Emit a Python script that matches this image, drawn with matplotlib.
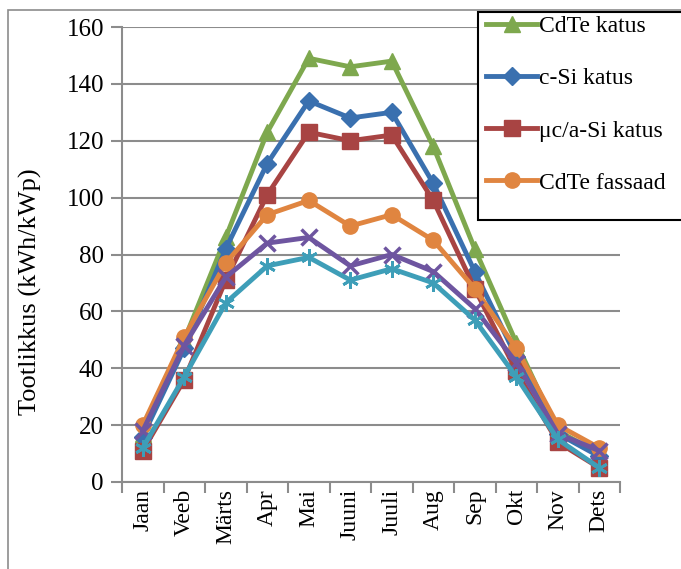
import matplotlib.pyplot as plt
from matplotlib.patches import Rectangle

# Kuud ja tootlikkus (kWh/kWp)
months = ['Jaan', 'Veeb', 'Märts', 'Apr', 'Mai', 'Juuni', 'Juuli', 'Aug', 'Sep', 'Okt', 'Nov', 'Dets']
cdte_katus = [17, 50, 86, 123, 149, 146, 148, 118, 82, 49, 18, 10]
csi_katus = [16, 47, 82, 112, 134, 128, 130, 105, 74, 44, 17, 9]
mcasi_katus = [11, 36, 71, 101, 123, 120, 122, 99, 68, 39, 14, 5]
cdte_fassaad = [20, 51, 77, 94, 99, 90, 94, 85, 68, 47, 20, 12]
seeria5 = [18, 48, 72, 84, 86, 76, 80, 74, 61, 42, 17, 11]
seeria6 = [12, 37, 63, 76, 79, 71, 75, 70, 57, 37, 15, 5]

plt.rcParams['font.family'] = ['Liberation Serif', 'DejaVu Serif']

W, H = 681, 569
fig = plt.figure(figsize=(W/100, H/100), dpi=100)
ax = fig.add_axes([122/W, 1-482/H, (620-122)/W, (482-27)/H])

# raam ümber joonise
fig.patches.append(Rectangle((8/W, -0.1), 1.2, 1-10/H+0.1, transform=fig.transFigure,
                             fill=False, edgecolor='#8c8c8c', lw=1.2))

x = list(range(len(months)))
ax.plot(x, cdte_katus, color='#7ea84e', lw=3.5, marker='^', ms=11, label='CdTe katus')
ax.plot(x, csi_katus, color='#3a70af', lw=3.5, marker='D', ms=9, label='c-Si katus')
ax.plot(x, mcasi_katus, color='#a84443', lw=3.5, marker='s', ms=11, label='μc/a-Si katus')
ax.plot(x, cdte_fassaad, color='#e08540', lw=3.5, marker='o', ms=11, label='CdTe fassaad')
ax.plot(x, seeria5, color='#6e55a0', lw=3.5, marker='x', ms=11, mew=2.5)
ax.plot(x, seeria6, color='#3e9eb8', lw=3.5, marker=(6, 2, 0), ms=12, mew=2)

ax.set_xlim(-0.5, 11.5)
ax.set_ylim(0, 160)
ax.set_yticks(range(0, 161, 20))
ax.set_xticks(x)
ax.set_xticklabels(months, rotation=90, fontsize=17)
ax.set_xticks([i - 0.5 for i in range(13)], minor=True)
ax.tick_params(axis='x', which='major', length=0, pad=5)
ax.tick_params(axis='x', which='minor', length=8, width=1.5, color='#8c8c8c', direction='out')
ax.tick_params(axis='y', length=8, width=1.5, color='#8c8c8c', labelsize=18, pad=5)
ax.grid(axis='y', color='#8c8c8c', lw=1.5)
ax.set_axisbelow(True)
for s in ['top', 'right']:
    ax.spines[s].set_visible(False)
for s in ['left', 'bottom']:
    ax.spines[s].set_color('#8c8c8c')
    ax.spines[s].set_linewidth(1.5)
ax.set_ylabel('Tootlikkus (kWh/kWp)', fontsize=19)
ax.yaxis.set_label_coords(-0.16, 0.418)

# legend, raam eraldi
fig.patches.append(Rectangle((478/W, 1-220/H), 0.5, (220-12)/H, transform=fig.transFigure,
                             facecolor='white', edgecolor='black', lw=1.5, zorder=5))
leg = fig.legend(loc='upper left', bbox_to_anchor=(482/W, 1-12/H), fontsize=17,
                 frameon=False, labelspacing=1.3, handlelength=2.2, handletextpad=0.05,
                 borderpad=0.15, borderaxespad=0)
leg.set_zorder(6)

plt.savefig('out.png', dpi=100)
